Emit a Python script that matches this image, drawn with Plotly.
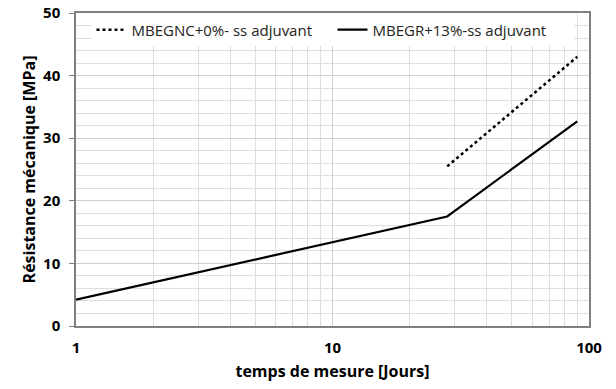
import plotly.graph_objects as go

days_a = [28, 90]
res_a = [25.5, 43.0]
days_b = [1, 28, 90]
res_b = [4.2, 17.5, 32.7]
name_a = "MBEGNC+0%- ss adjuvant"
name_b = "MBEGR+13%-ss adjuvant"

fig = go.Figure()
fig.add_trace(go.Scatter(x=days_a, y=res_a, mode="lines", name=name_a,
                         line=dict(color="black", width=2.5, dash="dot")))
fig.add_trace(go.Scatter(x=days_b, y=res_b, mode="lines", name=name_b,
                         line=dict(color="black", width=2.2)))

font_fam = "Open Sans, Liberation Sans, sans-serif"
fig.update_layout(
    width=616, height=389,
    margin=dict(l=76, r=27, t=13, b=63, autoexpand=False),
    paper_bgcolor="white", plot_bgcolor="white",
    font=dict(family=font_fam, color="black"),
    showlegend=True,
    legend=dict(orientation="h", x=0.5, xanchor="center", y=0.946, yanchor="middle",
                bgcolor="white", font=dict(size=15, color="#222"),
                itemwidth=30, entrywidth=196, entrywidthmode="pixels"),
    xaxis=dict(type="log", range=[0, 2], tickvals=[1, 10, 100], ticktext=["1", "10", "100"],
               showgrid=True, gridcolor="#d0d0d0", gridwidth=1,
               minor=dict(showgrid=True, gridcolor="#dedede",
                          tickvals=[2, 3, 4, 5, 6, 7, 8, 9, 20, 30, 40, 50, 60, 70, 80, 90]),
               showline=True, linecolor="#808080", linewidth=1.5, mirror=True,
               ticks="", ticklabelstandoff=7, automargin=False,
               tickfont=dict(size=15, family=font_fam, weight="bold"),
               title=dict(text="<b>temps de mesure [Jours]</b>", font=dict(size=16), standoff=10),
               zeroline=False),
    yaxis=dict(range=[0, 50], dtick=10,
               showgrid=True, gridcolor="#d0d0d0", gridwidth=1,
               minor=dict(showgrid=True, gridcolor="#dedede", dtick=2),
               showline=True, linecolor="#808080", linewidth=1.5, mirror=True,
               ticks="outside", ticklen=5, tickcolor="#808080", ticklabelstandoff=6,
               automargin=False,
               tickfont=dict(size=15, family=font_fam, weight="bold"),
               title=dict(text="<b>Résistance mécanique [MPa]</b>", font=dict(size=16), standoff=3),
               zeroline=False),
)
fig.write_html("out.html", config={"displayModeBar": False},
               post_script="document.body.style.margin='0';")
